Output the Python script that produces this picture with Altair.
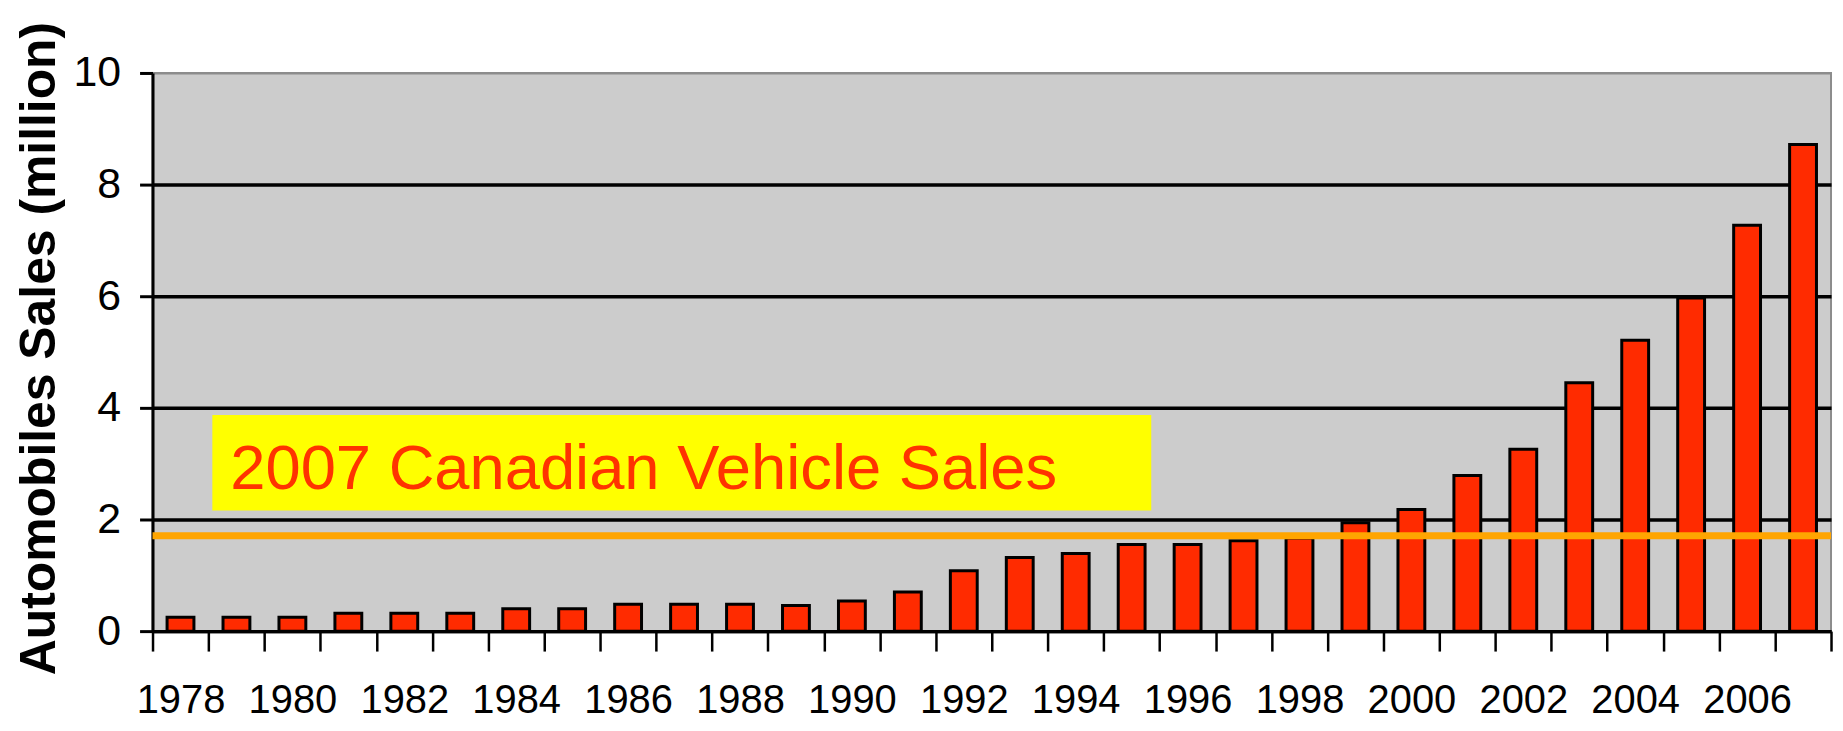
import altair as alt
import pandas as pd

years = list(range(1978, 2008))
sales = [0.25, 0.25, 0.25, 0.32, 0.32, 0.32, 0.40, 0.40, 0.48, 0.48,
         0.48, 0.46, 0.54, 0.70, 1.08, 1.32, 1.39, 1.55, 1.55, 1.62,
         1.67, 1.94, 2.18, 2.79, 3.26, 4.45, 5.21, 5.97, 7.27, 8.72]
y_ticks = [0, 2, 4, 6, 8, 10]
canada_2007 = [1.71]
note_text = ["2007 Canadian Vehicle Sales"]
note_box_top = [3.87]
note_box_bottom = [2.16]
note_text_y = [2.55]

df = pd.DataFrame({"year": years, "sales": sales})

x_axis = alt.Axis(
    title=None,
    labelExpr="datum.value % 2 == 0 ? datum.label : ''",
    labelAngle=0,
    labelFont="Liberation Sans",
    labelFontSize=40,
    labelColor="black",
    labelPadding=30,
    labelOverlap=False,
    tickSize=20,
    tickWidth=2.5,
    tickColor="black",
    tickBand="extent",
    domainColor="black",
    domainWidth=3.5,
    grid=False,
)

y_axis = alt.Axis(
    title="Automobiles Sales (million)",
    values=y_ticks,
    titleFont="Liberation Sans",
    titleFontWeight="bold",
    titleFontSize=50,
    titleColor="black",
    titleX=-113,
    titleY=276,
    titleAngle=270,
    titleAlign="center",
    titleBaseline="middle",
    labelFont="Liberation Sans",
    labelFontSize=43,
    labelColor="black",
    labelPadding=19,
    tickSize=13,
    tickWidth=3,
    tickColor="black",
    domainColor="black",
    domainWidth=3,
    grid=True,
    gridColor={"condition": {"test": "datum.value >= 10", "value": "#8c8c8c"}, "value": "black"},
    gridWidth={"condition": {"test": "datum.value >= 10", "value": 2}, "value": 3.5},
)

bars = alt.Chart(df).mark_bar(
    width=alt.RelativeBandSize(0.48), fill="#FF2B00", stroke="black", strokeWidth=3
).encode(
    x=alt.X("year:O", scale=alt.Scale(paddingInner=0, paddingOuter=0), axis=x_axis),
    y=alt.Y("sales:Q", scale=alt.Scale(domain=[0, 10]), axis=y_axis),
)

box_df = pd.DataFrame({"top": note_box_top, "bottom": note_box_bottom})
box = alt.Chart(box_df).mark_rect(color="#FFFF00").encode(
    x=alt.value(60), x2=alt.value(1002),
    y="top:Q", y2="bottom:Q",
)

text_df = pd.DataFrame({"label": note_text, "ty": note_text_y})
note = alt.Chart(text_df).mark_text(
    align="left", baseline="alphabetic", font="Liberation Sans",
    fontSize=63.5, color="#FF3300"
).encode(x=alt.value(78), y="ty:Q", text="label:N")

line_df = pd.DataFrame({"v": canada_2007})
line = alt.Chart(line_df).mark_rule(color="#FFA500", strokeWidth=7).encode(y="v:Q")

chart = alt.layer(box, note, bars, line).properties(
    width=1684, height=560,
    autosize=alt.AutoSizeParams(type="none"),
    padding={"left": 145, "top": 64, "right": 4, "bottom": 91},
).configure_view(fill="#CCCCCC", stroke="#8c8c8c", strokeWidth=2)

chart.save("out.html", embed_options={"renderer": "svg", "actions": False})
